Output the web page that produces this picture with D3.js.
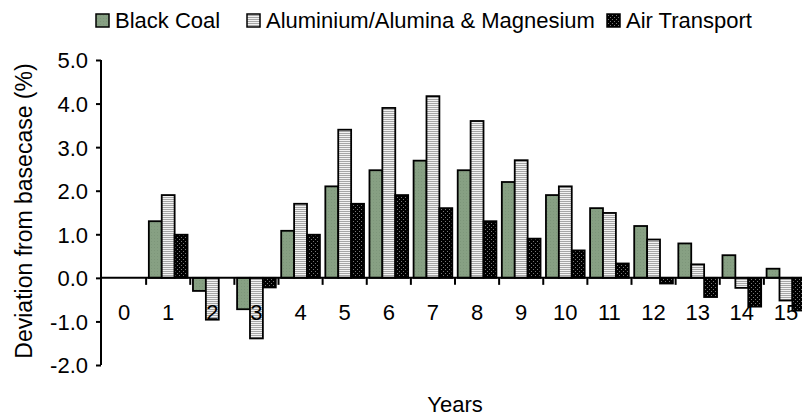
<!DOCTYPE html>
<html lang="en">
<head>
<meta charset="UTF-8" />
<title>Deviation from basecase</title>
<script src="https://d3js.org/d3.v7.min.js"></script>
<style>
  body { margin: 0; overflow: hidden; background: #fff; }
  text { font-family: "Liberation Sans", Arial, sans-serif; fill: #000; }
</style>
</head>
<body>
<svg width="802" height="418"></svg>
<script>
const years = ["0","1","2","3","4","5","6","7","8","9","10","11","12","13","14","15"];
const seriesNames = ["Black Coal", "Aluminium/Alumina & Magnesium", "Air Transport"];
const blackCoal = [0, 1.3, -0.3, -0.72, 1.08, 2.1, 2.47, 2.69, 2.47, 2.2, 1.9, 1.6, 1.19, 0.79, 0.52, 0.21];
const aluminium = [0, 1.9, -0.96, -1.39, 1.7, 3.4, 3.9, 4.17, 3.6, 2.7, 2.1, 1.49, 0.88, 0.31, -0.23, -0.52];
const airTransport = [0, 0.99, 0, -0.22, 0.99, 1.7, 1.9, 1.6, 1.3, 0.9, 0.63, 0.33, -0.13, -0.44, -0.66, -0.75];
const yTicks = [-2, -1, 0, 1, 2, 3, 4, 5];

const svg = d3.select("svg");
const defs = svg.append("defs");

// fills: plain green-grey, grey horizontal stripes, black with light dots
defs.append("pattern").attr("id", "p-coal").attr("patternUnits", "userSpaceOnUse")
  .attr("width", 3).attr("height", 3)
  .call(p => {
    p.append("rect").attr("width", 3).attr("height", 3).attr("fill", "#87a083");
    p.append("rect").attr("x", 1).attr("y", 1).attr("width", 1).attr("height", 1).attr("fill", "#7d967a");
  });
defs.append("pattern").attr("id", "p-alu").attr("patternUnits", "userSpaceOnUse")
  .attr("width", 4).attr("height", 2)
  .call(p => {
    p.append("rect").attr("width", 4).attr("height", 2).attr("fill", "#f2f2f2");
    p.append("rect").attr("y", 1).attr("width", 4).attr("height", 1).attr("fill", "#a6a6a6");
  });
defs.append("pattern").attr("id", "p-air").attr("patternUnits", "userSpaceOnUse")
  .attr("width", 4).attr("height", 4)
  .call(p => {
    p.append("rect").attr("width", 4).attr("height", 4).attr("fill", "#000");
    p.append("rect").attr("x", 1).attr("y", 1).attr("width", 1).attr("height", 1).attr("fill", "#777");
    p.append("rect").attr("x", 3).attr("y", 3).attr("width", 1).attr("height", 1).attr("fill", "#777");
  });
const fills = ["url(#p-coal)", "url(#p-alu)", "url(#p-air)"];

const x = d3.scaleBand().domain(years).range([102, 808]).padding(0);
const sub = d3.scaleBand().domain(d3.range(3)).range([0, x.bandwidth()]).paddingOuter(0.21).paddingInner(0);
const y = d3.scaleLinear().domain([-2, 5]).range([365, 60]);

const values = [blackCoal, aluminium, airTransport];
const rows = [];
values.forEach((arr, s) => arr.forEach((v, i) => { if (v !== 0) rows.push({ s, year: years[i], v }); }));

svg.append("g").selectAll("rect")
  .data(rows)
  .join("rect")
  .attr("x", d => x(d.year) + sub(d.s))
  .attr("width", sub.bandwidth())
  .attr("y", d => y(Math.max(0, d.v)))
  .attr("height", d => Math.abs(y(d.v) - y(0)))
  .attr("fill", d => fills[d.s])
  .attr("stroke", "#000")
  .attr("stroke-width", 1.8);

// y axis
const yAxis = svg.append("g")
  .attr("transform", "translate(101,0)")
  .call(d3.axisLeft(y).tickValues(yTicks).tickSize(5).tickPadding(8).tickFormat(d => d.toFixed(1)));
yAxis.select(".domain").attr("stroke-width", 2).attr("d", `M0,${y(5)}V${y(-2)}`);
yAxis.selectAll(".tick line").attr("stroke-width", 2);
yAxis.selectAll(".tick text").style("font-size", "22px").attr("dy", "0.36em");

// x axis along zero, ticks between categories
const xg = svg.append("g");
xg.append("line")
  .attr("x1", 101).attr("x2", 808).attr("y1", y(0)).attr("y2", y(0))
  .attr("stroke", "#000").attr("stroke-width", 2);
xg.selectAll(".xtick")
  .data(years.slice(1))
  .join("line")
  .attr("x1", d => x(d)).attr("x2", d => x(d))
  .attr("y1", y(0)).attr("y2", y(0) + 7)
  .attr("stroke", "#000").attr("stroke-width", 2);
xg.selectAll(".xlabel")
  .data(years)
  .join("text")
  .attr("x", d => x(d) + x.bandwidth() / 2)
  .attr("y", 320)
  .attr("text-anchor", "middle")
  .style("font-size", "22px")
  .text(d => d);

// axis titles
svg.append("text")
  .attr("transform", "translate(32,211) rotate(-90)")
  .attr("text-anchor", "middle")
  .style("font-size", "23px")
  .text("Deviation from basecase (%)");
svg.append("text")
  .attr("x", 455).attr("y", 412)
  .attr("text-anchor", "middle")
  .style("font-size", "22px")
  .text("Years");

// legend
const legendX = [96, 247, 607];
const legend = svg.append("g").selectAll("g")
  .data(seriesNames)
  .join("g")
  .attr("transform", (d, i) => `translate(${legendX[i]},14)`);
legend.append("rect")
  .attr("width", 13).attr("height", 13)
  .attr("fill", (d, i) => fills[i])
  .attr("stroke", "#000").attr("stroke-width", 1.5);
legend.append("text")
  .attr("x", 19).attr("y", 14)
  .style("font-size", "22px")
  .text(d => d);
</script>
</body>
</html>
